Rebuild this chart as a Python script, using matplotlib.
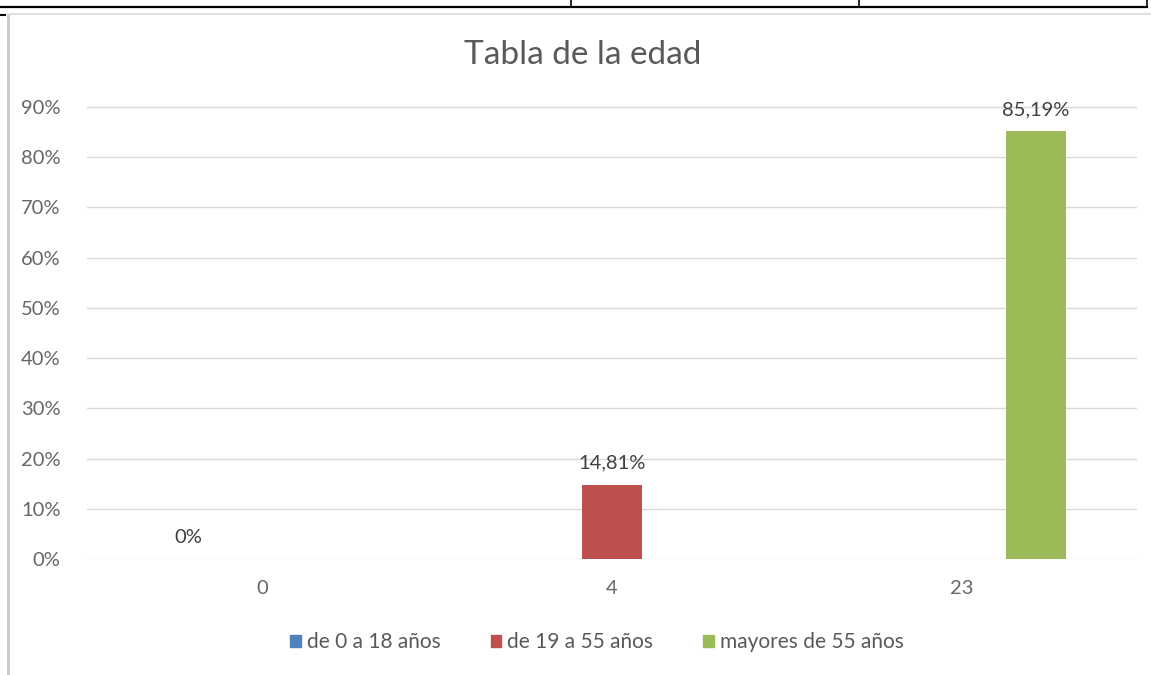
import matplotlib
matplotlib.use("Agg")
import matplotlib.pyplot as plt
import numpy as np
from matplotlib.lines import Line2D
from matplotlib.patches import Rectangle

categories = ["0", "4", "23"]
series_names = ["de 0 a 18 años", "de 19 a 55 años", "mayores de 55 años"]
serie_0_18 = [0.0, np.nan, np.nan]
serie_19_55 = [np.nan, 14.81, np.nan]
serie_55 = [np.nan, np.nan, 85.19]
labels_0_18 = ["0%", "", ""]
labels_19_55 = ["", "14,81%", ""]
labels_55 = ["", "", "85,19%"]
yticks = [0, 10, 20, 30, 40, 50, 60, 70, 80, 90]
ytick_labels = ["0%", "10%", "20%", "30%", "40%", "50%", "60%", "70%", "80%", "90%"]
title = "Tabla de la edad"

colors = ["#4f81bd", "#c0504d", "#9bbb59"]

plt.rcParams['font.family'] = ['Lato', 'DejaVu Sans']

W, H = 1151, 675
fig = plt.figure(figsize=(W / 100, H / 100), dpi=100)
fig.patch.set_facecolor("white")

def fx(px):
    return px / W
def fy(py):
    return 1 - py / H

# table lines at top of the page
fig.add_artist(Line2D([fx(0), fx(1147)], [fy(7), fy(7)], color="black", lw=1.6))
for xv in [571, 859, 1147]:
    fig.add_artist(Line2D([fx(xv), fx(xv)], [fy(0), fy(7)], color="black", lw=1.2))
fig.add_artist(Line2D([fx(0), fx(5)], [fy(15), fy(15)], color="black", lw=1.5))
# chart frame
fig.add_artist(Line2D([fx(8), fx(8)], [fy(14), fy(675)], color="#c8c8c8", lw=2))
fig.add_artist(Line2D([fx(8), fx(1151)], [fy(14), fy(14)], color="#e0e0e0", lw=1.5))

left, right = 87, 1137
top, bottom = 107, 559  # 90% and 0%
ax = fig.add_axes([fx(left), fy(bottom), (right - left) / W, (bottom - top) / H * (100 / 90)])
ax.set_ylim(0, 100)
ax.set_xlim(-0.5, 2.5)

x = np.arange(len(categories))
width = 0.171
offset = 0.211
all_series = [serie_0_18, serie_19_55, serie_55]
all_labels = [labels_0_18, labels_19_55, labels_55]
for i, (vals, labs) in enumerate(zip(all_series, all_labels)):
    pos = x + (i - 1) * offset
    v = np.array(vals, dtype=float)
    ax.bar(pos, np.nan_to_num(v), width=width, color=colors[i], label=series_names[i], zorder=3)
    for p, val, lab in zip(pos, v, labs):
        if lab:
            ax.text(p, val + 2.6, lab, ha="center", va="bottom", fontsize=14.5, color="#404040")

ax.set_yticks(yticks)
ax.set_yticklabels(ytick_labels)
ax.set_xticks(x)
ax.set_xticklabels(categories)
ax.grid(axis="y", color="#d9d9d9", lw=1, zorder=0)
for s in ax.spines.values():
    s.set_visible(False)
ax.tick_params(axis="both", length=0, labelsize=14.5, colors="#666666")
ax.tick_params(axis="y", pad=19)
ax.tick_params(axis="x", pad=15)

fig.text(fx(583), fy(55), title, ha="center", va="center", fontsize=24, color="#595959")

handles = [Rectangle((0, 0), 1, 1, color=c) for c in colors]
fig.legend(handles, series_names, loc="center", bbox_to_anchor=(fx(597), fy(642)), ncol=3,
           frameon=False, fontsize=15, labelcolor="#595959", handlelength=0.5, handleheight=0.5,
           handletextpad=0.3, columnspacing=2.4)

fig.savefig("out.png", dpi=100, facecolor="white")
